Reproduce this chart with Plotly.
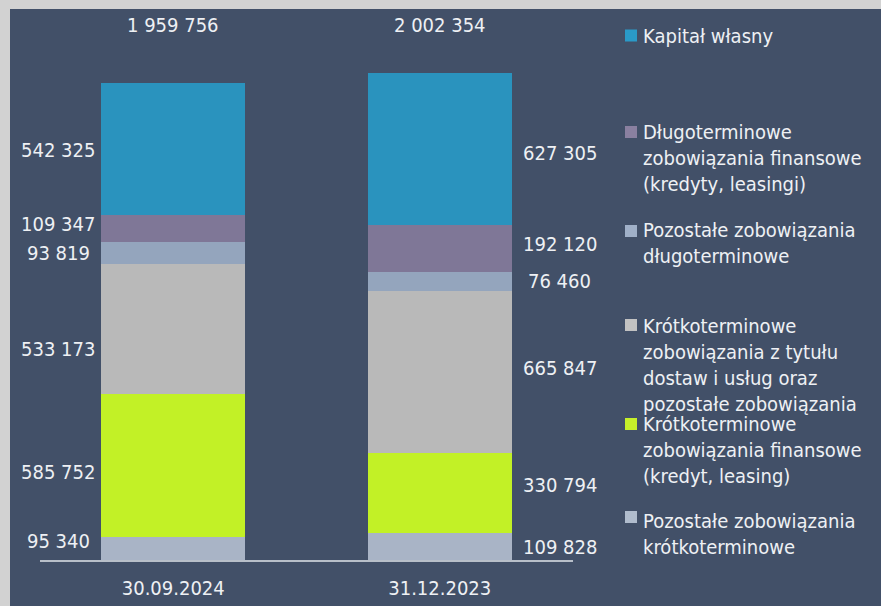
import plotly.graph_objects as go

categories = ["30.09.2024", "31.12.2023"]

series_names = [
    "Pozostałe zobowiązania<br>krótkoterminowe",
    "Krótkoterminowe<br>zobowiązania finansowe<br>(kredyt, leasing)",
    "Krótkoterminowe<br>zobowiązania z tytułu<br>dostaw i usług oraz<br>pozostałe zobowiązania",
    "Pozostałe zobowiązania<br>długoterminowe",
    "Długoterminowe<br>zobowiązania finansowe<br>(kredyty, leasingi)",
    "Kapitał własny",
]

pozostale_krotko = [95340, 109828]
krotko_finansowe = [585752, 330794]
krotko_dostawy = [533173, 665847]
pozostale_dlugo = [93819, 76460]
dlugo_finansowe = [109347, 192120]
kapital_wlasny = [542325, 627305]

series_values = [pozostale_krotko, krotko_finansowe, krotko_dostawy,
                 pozostale_dlugo, dlugo_finansowe, kapital_wlasny]

totals = [sum(v[i] for v in series_values) for i in range(len(categories))]

def fmt(n):
    return f"{n:,}".replace(",", " ")

# styles
colors = ["#a9b4c6", "#c2f126", "#b9b9b9", "#94a5bd", "#7f7797", "#2a93be"]
legend_colors = ["#b0bccd", "#c6f02a", "#c2c2c2", "#a0b0c8", "#8a80a0", "#2a9ac8"]
FONT = "DejaVu Sans Condensed, DejaVu Sans, sans-serif"
TXT = "#eef0f4"
PANEL = "#425068"
BORDER = "#d2d2d2"

W, H = 881, 606
ML, MR, MT, MB = 40, 308, 61, 46
PW = W - ML - MR
PH = H - MT - MB
YMAX = 2050000

def px_x(px):
    return (px - ML) / PW

def px_y(py):
    return (H - MB - py) / PH

fig = go.Figure()
for name, vals, col in zip(series_names, series_values, colors):
    fig.add_trace(go.Bar(x=categories, y=vals, name=name, marker=dict(color=col, line=dict(width=0)),
                         width=0.54, showlegend=False, hoverinfo="skip"))

annotations = []
# segment labels
label_xshift = [-115, 120]
label_yshift = [
    [7, 0],    # pozostale krotko
    [-6, 8],   # krotko fin
    [-20, 4],  # dostawy
    [0, 0],
    [4, 5],
    [-1, -4],
]
for ci in range(len(categories)):
    cum = 0
    for si, vals in enumerate(series_values):
        v = vals[ci]
        mid = cum + v / 2
        cum += v
        annotations.append(dict(x=categories[ci], y=mid, xref="x", yref="y", text=fmt(v),
                                showarrow=False, xshift=label_xshift[ci], yshift=label_yshift[si][ci],
                                font=dict(family=FONT, size=20, color=TXT)))
    annotations.append(dict(x=categories[ci], y=px_y(25), xref="x", yref="paper", text=fmt(totals[ci]),
                            showarrow=False, yanchor="middle",
                            font=dict(family=FONT, size=20, color=TXT)))

# legend (drawn manually to match spacing)
legend_first_line_y = [520, 423, 325, 229, 131, 35]
legend_square_y = [517, 424, 325, 231, 132, 35.5]
shapes = [dict(type="rect", xref="paper", yref="paper", x0=px_x(10), x1=px_x(W + 20),
               y0=px_y(H + 20), y1=px_y(9), fillcolor=PANEL, line=dict(width=0), layer="below")]
for name, col, ly, sy in zip(series_names, legend_colors, legend_first_line_y, legend_square_y):
    annotations.append(dict(x=px_x(641), y=px_y(ly - 13), xref="paper", yref="paper", text=name,
                            showarrow=False, xanchor="left", yanchor="top", align="left",
                            font=dict(family=FONT, size=20, color=TXT)))
    shapes.append(dict(type="rect", xref="paper", yref="paper", x0=px_x(625), x1=px_x(637),
                       y0=px_y(sy + 6), y1=px_y(sy - 6), fillcolor=col, line=dict(width=0)))

fig.update_layout(
    width=W, height=H,
    margin=dict(l=ML, r=MR, t=MT, b=MB, autoexpand=False),
    paper_bgcolor=BORDER, plot_bgcolor="rgba(0,0,0,0)",
    barmode="stack", bargap=0.46,
    showlegend=False,
    annotations=annotations, shapes=shapes,
    xaxis=dict(range=[-0.5, 1.5], showline=True, linecolor="#b8bfc9", linewidth=2,
               showgrid=False, ticks="", tickfont=dict(family=FONT, size=20, color=TXT),
               ticklabelstandoff=9, zeroline=False, automargin=False),
    yaxis=dict(range=[0, YMAX], visible=False, showgrid=False, zeroline=False, automargin=False),
    font=dict(family=FONT, color=TXT),
)

fig.write_html("out.html", config={"displayModeBar": False},
               post_script="document.body.style.margin='0';document.body.style.overflow='hidden';")
